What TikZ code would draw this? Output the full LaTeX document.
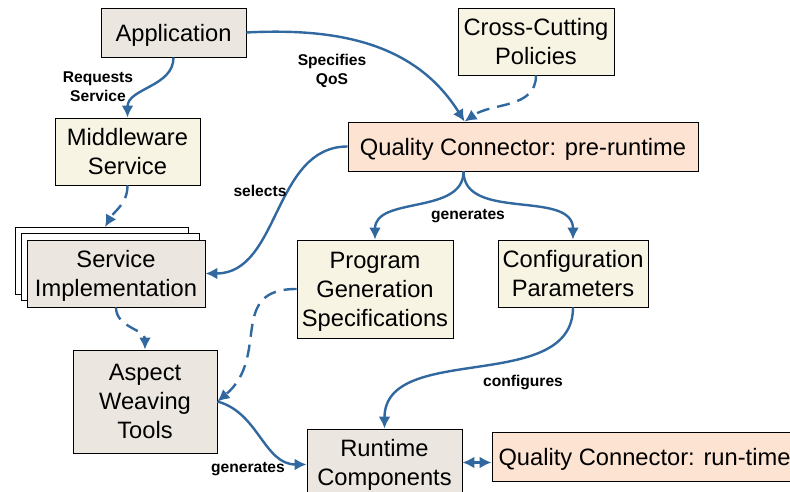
\documentclass[tikz,border=0pt]{standalone}
\usepackage{fontspec}
\setmainfont{Liberation Sans}
\usetikzlibrary{arrows.meta,calc,shadows}

\definecolor{boxgrey}{HTML}{EBE7E0}
\definecolor{boxcream}{HTML}{F8F4E3}
\definecolor{boxpeach}{HTML}{FDE3D1}
\definecolor{flow}{HTML}{31689F}

\tikzset{
  box/.style={draw=black, line width=0.9pt, inner sep=0pt, align=center,
    text depth=0pt, font=\fontsize{23.7}{29}\selectfont,
    drop shadow={shadow xshift=1.4pt, shadow yshift=0pt, fill=black!55, opacity=0.8}},
  greybox/.style={box, fill=boxgrey},
  creambox/.style={box, fill=boxcream},
  peachbox/.style={box, fill=boxpeach},
  layer/.style={draw=black, line width=0.9pt, fill=white},
  link/.style={draw=flow, line width=2.4pt, -{Latex[length=12pt,width=12pt]}},
  linkdash/.style={link, dash pattern=on 13pt off 8pt},
  lbl/.style={font=\fontsize{15.6}{19}\selectfont\bfseries, align=center, inner sep=0pt}
}

\begin{document}
\begin{tikzpicture}[x=1pt,y=1pt]
\useasboundingbox (0,0) rectangle (790,492);
\clip (0,0) rectangle (790,492);
\fill[white] (0,0) rectangle (790,492);

% stacked sheets behind the service implementation box
\draw[layer] (15.7,198) rectangle (188,265);
\draw[layer] (21.3,191.5) rectangle (199.3,258.5);

% boxes
\node[greybox, minimum width=145pt, minimum height=49pt] (app) at (173.5,459.5) {Application};
\node[creambox, minimum width=156pt, minimum height=67pt] (ccp) at (536,450.5) {Cross-Cutting\\Policies};
\node[creambox, minimum width=145pt, minimum height=67pt] (mws) at (127.5,340.5) {Middleware\\Service};
\node[peachbox, minimum width=350pt, minimum height=49pt] (qcpre) at (523,345.5) {Quality Connector: pre-runtime};
\node[greybox, minimum width=178pt, minimum height=67pt] (si) at (116,218.5) {Service\\Implementation};
\node[creambox, minimum width=156pt, minimum height=98pt] (pgs) at (375,203) {Program\\Generation\\Specifications};
\node[creambox, minimum width=150pt, minimum height=67pt] (cfg) at (573,218.5) {Configuration\\Parameters};
\node[greybox, minimum width=144pt, minimum height=103pt] (awt) at (145,90.5) {Aspect\\Weaving\\Tools};
\node[greybox, minimum width=155pt, minimum height=67pt] (rtc) at (384.5,29.5) {Runtime\\Components};
\node[peachbox, minimum width=305pt, minimum height=49pt] (qcrt) at (644.5,35.5) {Quality Connector: run-time};

% connector end points on box edges
\coordinate (qin) at ($(qcpre.north west)+(117,0)$);
\coordinate (qout) at ($(qcpre.south west)+(116,0)$);
\coordinate (sitop) at (105,265);

% connectors
\draw[link] (app.south) to[out=-90,in=90] (mws.north);
\draw[link] (app.east) to[out=3,in=122] (qin);
\draw[linkdash] (ccp.south) to[out=-90,in=35] (qin);
\draw[link] (qcpre.west) to[out=180,in=0] (si.east);
\draw[linkdash] (mws.south) to[out=-90,in=60] (sitop);
\draw[link] (qout) to[out=-90,in=90] (pgs.north);
\draw[link] (qout) to[out=-90,in=90] (cfg.north);
\draw[linkdash] (si.south) to[out=-90,in=90] (awt.north);
\draw[linkdash] (pgs.west) to[out=180,in=40,looseness=1.3] (awt.east);
\draw[link] (cfg.south) to[out=-90,in=90] (rtc.north);
\draw[link] (awt.east) to[out=-15,in=180] ($(rtc.west)+(0,-2)$);
\draw[link, {Latex[length=12pt,width=12pt]}-{Latex[length=12pt,width=12pt]}] (rtc.east) -- (rtc.east -| qcrt.west);

% connector labels
\node[lbl] (lreq) at (98,405) {Requests\\Service};
\node[lbl] (lspec) at (332,421) {Specifies\\QoS};
\node[lbl] (lsel) at (260,301) {selects};
\node[lbl] (lgen) at (468,276) {generates};
\node[lbl] (lconf) at (523,109) {configures};
\node[lbl] (lgen2) at (248,23) {generates};
\end{tikzpicture}
\end{document}
